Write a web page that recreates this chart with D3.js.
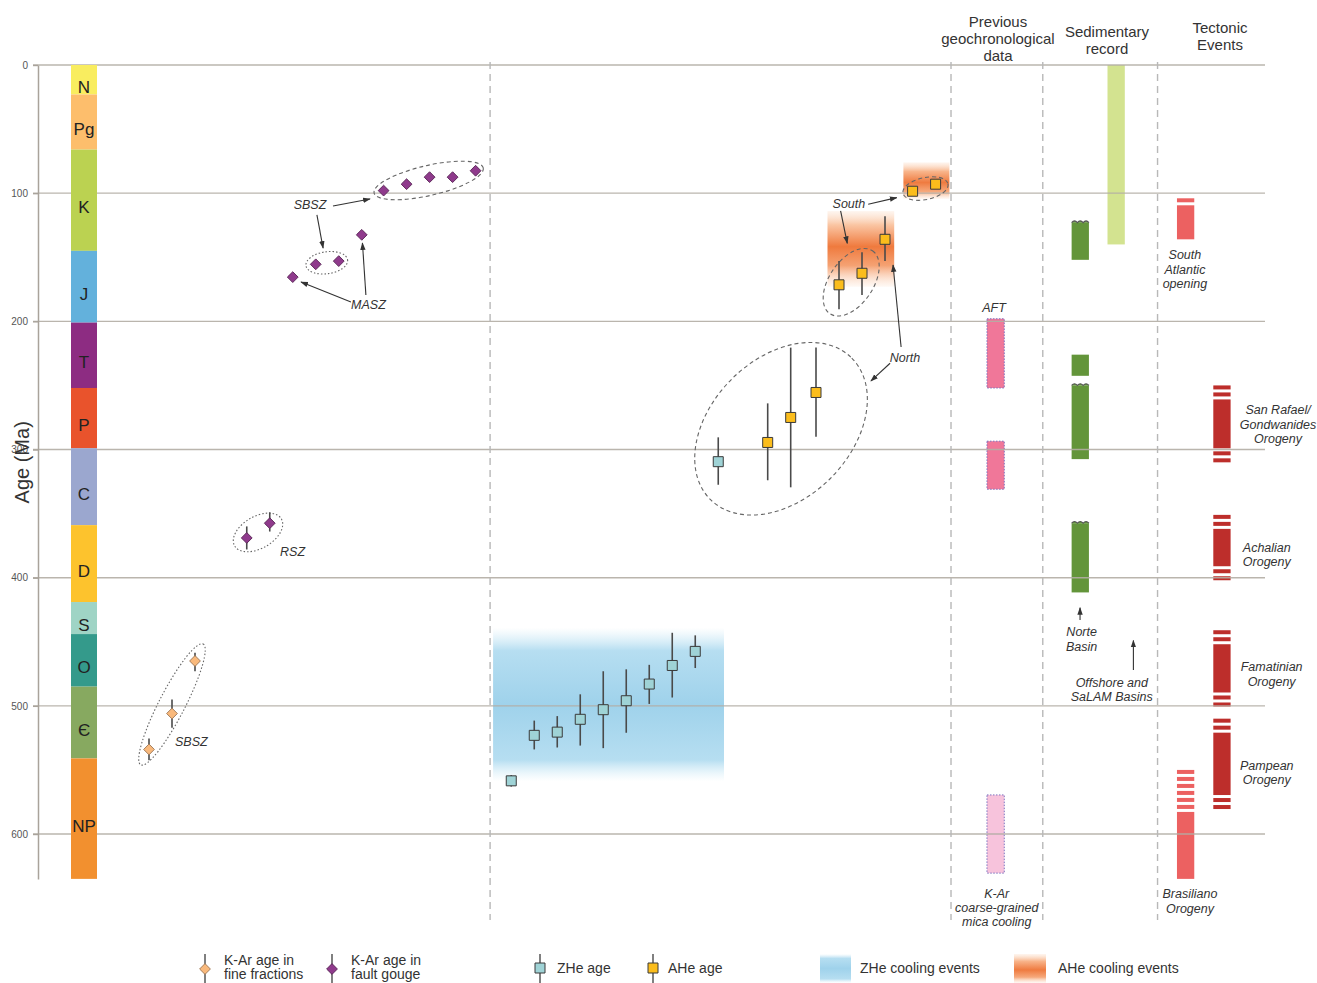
<!DOCTYPE html>
<html>
<head>
<meta charset="utf-8">
<script src="https://cdn.jsdelivr.net/npm/d3@7"></script>
<style>
  html, body { margin: 0; padding: 0; background: #fff; }
  svg { display: block; font-family: "Liberation Sans", Arial, sans-serif; }
</style>
</head>
<body>
<svg id="chart" width="1317" height="983"></svg>
<script>
// ---------- Geological time scale (Ma) ----------
const periods      = ["N", "Pg", "K", "J", "T", "P", "C", "D", "S", "O", "Є", "NP"];
const periodStart  = [0, 23, 66, 145, 201, 252, 299, 359, 419, 444, 485, 541];
const periodEnd    = [23, 66, 145, 201, 252, 299, 359, 419, 444, 485, 541, 635];
const periodColors = ["#f9ed5f", "#fdbe6c", "#bbd251", "#63b1dc", "#8d2c82", "#e9532c",
                      "#9ba7cf", "#fdc32d", "#9fd4c5", "#349a8b", "#87a960", "#f2902f"];

const ageTicks = [0, 100, 200, 300, 400, 500, 600];

// ---------- K-Ar ages, fine fractions (sample slot along profile) ----------
const fineSlot = [0, 1, 2];
const fineAge  = [534, 506, 465];
const fineLo   = [525.5, 495, 458.5];
const fineHi   = [542.5, 517, 473];

// ---------- K-Ar ages, fault gouge ----------
const gougeSlot = [4.25, 5.25, 6.25, 7.25, 8.25, 9.25, 10.2, 11.2, 12.2, 13.2, 14.2];
const gougeAge  = [369, 357.5, 165.5, 155.5, 153, 132.5, 98, 93, 87.5, 87.5, 82.5];
const gougeLo   = [360, 349, null, null, null, null, null, null, null, null, null];
const gougeHi   = [378, 364, null, null, null, null, null, null, null, null, null];

// ---------- ZHe ages ----------
const zheSlot = [15.75, 16.75, 17.75, 18.75, 19.75, 20.75, 21.75, 22.75, 23.75, 24.75];
const zheAge  = [558.5, 523, 520.5, 510.5, 503, 496, 483, 468.5, 457.5, 309.5];
const zheLo   = [554, 511.5, 508, 491, 473, 471.5, 468, 443, 445, 290.5];
const zheHi   = [563, 534, 532.5, 531, 533, 521, 498.5, 493.5, 470.5, 327.5];

// ---------- AHe ages ----------
const aheSlot = [26.9, 27.9, 29.0, 30.0, 31.0, 32.0, 33.2, 34.2];
const aheAge  = [294.5, 275, 255.5, 171.5, 162.5, 136, 98.5, 93];
const aheLo   = [264, 220.5, 220.5, 153, 146, 118, null, null];
const aheHi   = [324, 329.5, 290, 190.5, 179.5, 153, null, null];

// ---------- Cooling events ----------
const coolKind     = ["zhe", "ahe", "ahe"];
const coolSlotFrom = [14.96, 29.5, 32.8];
const coolSlotTo   = [25.0, 32.4, 34.8];
const coolAgeFrom  = [439, 114, 76];
const coolAgeTo    = [559, 173, 104.5];

// ---------- Previous geochronological data ----------
const prevKind = ["aft", "aft", "mica"];
const prevFrom = [198, 293.5, 569.5];
const prevTo   = [252, 331, 630.5];

// ---------- Sedimentary record ----------
const sedTrack = ["dark", "dark", "dark", "dark", "light"];
const sedFrom  = [123, 226, 250, 357.5, 0];
const sedTo    = [152, 242.5, 307.5, 411.5, 140];
const sedWavy  = [true, false, true, true, false];

// ---------- Tectonic events ----------
const tectTrack      = ["light", "dark", "dark", "dark", "dark", "light"];
const tectFrom       = [104, 250, 351, 441, 510, 550];
const tectTo         = [136, 310, 402, 500.5, 580.5, 635];
const tectFuzzTop    = [1, 2, 2, 2, 2, 6];
const tectFuzzBottom = [0, 2, 2, 2, 2, 0];
const tectLabel = [["South", "Atlantic", "opening"], ["San Rafael/", "Gondwanides", "Orogeny"],
                   ["Achalian", "Orogeny"], ["Famatinian", "Orogeny"],
                   ["Pampean", "Orogeny"], ["Brasiliano", "Orogeny"]];

// ---------- layout ----------
const svg = d3.select("#chart");
const axisX = 38, gridLeft = 33, gridRight = 1265;
const x = d3.scaleLinear().domain([0, 46]).range([149, 149 + 46 * 23]);
const y = d3.scaleLinear().domain([0, 635]).range([65, 65 + 635 * 1.2817]);

// track centres (slot units) for the right-hand columns
const trackSlot = { prev: 36.81, sedDark: 40.49, sedLight: 42.05, tectLight: 45.07, tectDark: 46.65 };
const trackW = 17.3;
const panelSeparators = [14.83, 34.87, 38.86, 43.85];

const defs = svg.append("defs");
function vGrad(id, stops) {
  const g = defs.append("linearGradient").attr("id", id)
    .attr("x1", 0).attr("y1", 0).attr("x2", 0).attr("y2", 1);
  stops.forEach(s => g.append("stop").attr("offset", s[0]).attr("stop-color", s[1]).attr("stop-opacity", s[2]));
}
vGrad("gZhe", [[0, "#cde9f6", 0], [0.15, "#b6def1", 1], [0.5, "#9fd2eb", 1], [0.86, "#b6def1", 1], [1, "#d6eef8", 0]]);
vGrad("gAhe1", [[0, "#fde6d5", 0.4], [0.18, "#fac6a4", 1], [0.47, "#ef7a3e", 1], [0.72, "#f5a273", 1], [1, "#fde8d8", 0.3]]);
vGrad("gAhe2", [[0, "#fde6d5", 0.4], [0.25, "#f8b48a", 1], [0.55, "#ef7b40", 1], [0.8, "#f6a97c", 1], [1, "#fde8d8", 0.3]]);

defs.append("marker").attr("id", "arrow").attr("viewBox", "0 0 10 10")
  .attr("refX", 9).attr("refY", 5).attr("markerWidth", 7).attr("markerHeight", 7)
  .attr("orient", "auto")
  .append("path").attr("d", "M0,1.5 L10,5 L0,8.5 Z").attr("fill", "#333");

// ---------- cooling event bands ----------
svg.append("g").selectAll("rect").data(coolKind).join("rect")
  .attr("x", (d, i) => x(coolSlotFrom[i]))
  .attr("width", (d, i) => x(coolSlotTo[i]) - x(coolSlotFrom[i]))
  .attr("y", (d, i) => y(coolAgeFrom[i]))
  .attr("height", (d, i) => y(coolAgeTo[i]) - y(coolAgeFrom[i]))
  .attr("fill", (d, i) => d === "zhe" ? "url(#gZhe)" : (i === 1 ? "url(#gAhe1)" : "url(#gAhe2)"));

// ---------- previous geochronological data ----------
svg.append("g").selectAll("rect").data(prevKind).join("rect")
  .attr("x", x(trackSlot.prev) - trackW / 2).attr("width", trackW)
  .attr("y", (d, i) => y(prevFrom[i]))
  .attr("height", (d, i) => y(prevTo[i]) - y(prevFrom[i]))
  .attr("fill", d => d === "aft" ? "#f07799" : "#f7c3dc")
  .attr("stroke", "#7b74c0").attr("stroke-width", 1).attr("stroke-dasharray", "1.5,1.5");

// ---------- sedimentary record ----------
const sedG = svg.append("g");
sedTrack.forEach((t, i) => {
  const cx = x(t === "dark" ? trackSlot.sedDark : trackSlot.sedLight);
  const x0 = cx - trackW / 2;
  sedG.append("rect").attr("x", x0).attr("width", trackW)
    .attr("y", y(sedFrom[i])).attr("height", y(sedTo[i]) - y(sedFrom[i]))
    .attr("fill", t === "dark" ? "#63953a" : "#d3e390");
  if (sedWavy[i]) {
    const n = 3, s = trackW / n, yy = y(sedFrom[i]);
    let d = `M${x0},${yy}`;
    for (let k = 0; k < n; k++) d += ` q${s / 2},-3.5 ${s},0`;
    sedG.append("path").attr("d", d).attr("fill", "#63953a")
      .attr("stroke", "#555").attr("stroke-width", 1.1);
  }
});

// ---------- tectonic events ----------
const tectG = svg.append("g");
const stripeH = 4, stripeStep = 7;
tectTrack.forEach((t, i) => {
  const cx = x(t === "dark" ? trackSlot.tectDark : trackSlot.tectLight);
  const x0 = cx - trackW / 2;
  const fill = t === "dark" ? "#bd2e2b" : "#ec6161";
  const top = y(tectFrom[i]), bot = y(tectTo[i]);
  const nt = tectFuzzTop[i], nb = tectFuzzBottom[i];
  for (let k = 0; k < nt; k++)
    tectG.append("rect").attr("x", x0).attr("width", trackW)
      .attr("y", top + k * stripeStep).attr("height", stripeH).attr("fill", fill);
  const mainTop = top + nt * stripeStep, mainBot = bot - nb * stripeStep;
  tectG.append("rect").attr("x", x0).attr("width", trackW)
    .attr("y", mainTop).attr("height", mainBot - mainTop).attr("fill", fill);
  for (let k = 0; k < nb; k++)
    tectG.append("rect").attr("x", x0).attr("width", trackW)
      .attr("y", bot - (nb - k) * stripeStep + (stripeStep - stripeH)).attr("height", stripeH).attr("fill", fill);
});

// ---------- grid lines ----------
svg.append("g").selectAll("line").data(ageTicks).join("line")
  .attr("x1", gridLeft).attr("x2", gridRight)
  .attr("y1", d => y(d)).attr("y2", d => y(d))
  .attr("stroke", "#b3ada4").attr("stroke-width", 1.4).attr("stroke-opacity", 0.9);

// ---------- panel separators ----------
svg.append("g").selectAll("line").data(panelSeparators).join("line")
  .attr("x1", d => x(d)).attr("x2", d => x(d))
  .attr("y1", 62).attr("y2", 920)
  .attr("stroke", "#b8b8b8").attr("stroke-width", 1.4).attr("stroke-dasharray", "7,5");

// ---------- age axis ----------
const axisG = svg.append("g").attr("transform", `translate(${axisX},0)`)
  .call(d3.axisLeft(y).tickValues(ageTicks).tickSize(5).tickSizeOuter(0).tickPadding(5).tickFormat(d3.format("d")));
axisG.select(".domain").attr("stroke", "#a9a39b").attr("stroke-width", 1.5);
axisG.selectAll(".tick line").attr("stroke", "#a9a39b").attr("stroke-width", 1.4);
axisG.selectAll(".tick text").attr("font-size", 10).attr("fill", "#555")
  .attr("font-family", "'Liberation Sans', Arial, sans-serif");

svg.append("text").attr("transform", `translate(29,${y(310)}) rotate(-90)`)
  .attr("text-anchor", "middle").attr("font-size", 20).attr("fill", "#333")
  .text("Age (Ma)");

// ---------- geological column ----------
const colG = svg.append("g");
colG.selectAll("rect").data(periods).join("rect")
  .attr("x", 71).attr("width", 26)
  .attr("y", (d, i) => y(periodStart[i]))
  .attr("height", (d, i) => y(periodEnd[i]) - y(periodStart[i]))
  .attr("fill", (d, i) => periodColors[i]);
colG.selectAll("text").data(periods).join("text")
  .attr("x", 84)
  .attr("y", (d, i) => (y(periodStart[i]) + y(periodEnd[i])) / 2 + 13)
  .attr("text-anchor", "middle").attr("font-size", 17).attr("fill", "#222")
  .text(d => d);

// ---------- grouping ellipses ----------
const ellSlot  = [12.16, 7.73, 4.74, 1.0, 27.48, 30.53, 33.76];
const ellAge   = [90.1, 154.3, 364.7, 498.9, 283.8, 169.5, 96.4];
const ellRx    = [56, 21, 27, 68, 100, 38, 23];
const ellRy    = [15, 11, 16, 13, 70, 22, 11];
const ellAngle = [-13, -8, -30, -62.7, -45, -56, -12];
const ellDash  = ["4,3", "1.5,2", "1.5,2", "1.5,2", "4,3", "4,3", "4,3"];
svg.append("g").selectAll("ellipse").data(ellSlot).join("ellipse")
  .attr("transform", (d, i) => `translate(${x(d)},${y(ellAge[i])}) rotate(${ellAngle[i]})`)
  .attr("rx", (d, i) => ellRx[i]).attr("ry", (d, i) => ellRy[i])
  .attr("fill", "none").attr("stroke", "#666").attr("stroke-width", 1.1)
  .attr("stroke-dasharray", (d, i) => ellDash[i]);

// ---------- annotation arrows ----------
const arrows = [
  [8.0, 110.0, 9.61, 104.5], [7.30, 117.0, 7.57, 142.8],
  [8.78, 184.9, 6.61, 169.3], [9.43, 179.4, 9.28, 138.9],
  [31.27, 108.7, 32.51, 103.5], [30.07, 113.9, 30.36, 139.1],
  [32.22, 232.7, 31.39, 246.5], [32.70, 220.0, 32.35, 156.0],
  [40.48, 433.0, 40.48, 423.5], [42.80, 472.0, 42.80, 449.0]
];
svg.append("g").selectAll("line").data(arrows).join("line")
  .attr("x1", d => x(d[0])).attr("y1", d => y(d[1]))
  .attr("x2", d => x(d[2])).attr("y2", d => y(d[3]))
  .attr("stroke", "#333").attr("stroke-width", 1.1).attr("marker-end", "url(#arrow)");

// ---------- points with error bars ----------
const diamond = d3.symbol(d3.symbolSquare, 58);
const square = d3.symbol(d3.symbolSquare, 100);
function errorBars(g, slots, lo, hi) {
  g.selectAll("line.err").data(slots.map((s, i) => [s, lo[i], hi[i]]).filter(d => d[1] != null))
    .join("line").attr("class", "err")
    .attr("x1", d => x(d[0])).attr("x2", d => x(d[0]))
    .attr("y1", d => y(d[1])).attr("y2", d => y(d[2]))
    .attr("stroke", "#4a4a4a").attr("stroke-width", 1.6);
}
const fineG = svg.append("g");
errorBars(fineG, fineSlot, fineLo, fineHi);
fineG.selectAll("path").data(fineSlot).join("path")
  .attr("d", diamond)
  .attr("transform", (d, i) => `translate(${x(d)},${y(fineAge[i])}) rotate(45)`)
  .attr("fill", "#f9b97c").attr("stroke", "#9d7a5a").attr("stroke-width", 0.9);

const gougeG = svg.append("g");
errorBars(gougeG, gougeSlot, gougeLo, gougeHi);
gougeG.selectAll("path").data(gougeSlot).join("path")
  .attr("d", diamond)
  .attr("transform", (d, i) => `translate(${x(d)},${y(gougeAge[i])}) rotate(45)`)
  .attr("fill", "#8f3a8c").attr("stroke", "#5b2858").attr("stroke-width", 0.9);

const zheG = svg.append("g");
errorBars(zheG, zheSlot, zheLo, zheHi);
zheG.selectAll("path").data(zheSlot).join("path")
  .attr("d", square)
  .attr("transform", (d, i) => `translate(${x(d)},${y(zheAge[i])})`)
  .attr("fill", "#9fd3d6").attr("stroke", "#3a3a3a").attr("stroke-width", 1);

const aheG = svg.append("g");
errorBars(aheG, aheSlot, aheLo, aheHi);
aheG.selectAll("path").data(aheSlot).join("path")
  .attr("d", square)
  .attr("transform", (d, i) => `translate(${x(d)},${y(aheAge[i])})`)
  .attr("fill", "#fbbd1c").attr("stroke", "#3a3a3a").attr("stroke-width", 1);

// ---------- italic annotation labels ----------
function label(lines, slot, age, anchor, size) {
  const t = svg.append("text").attr("x", x(slot)).attr("y", y(age))
    .attr("text-anchor", anchor).attr("font-size", size || 12.5)
    .attr("font-style", "italic").attr("fill", "#333");
  lines.forEach((l, k) => t.append("tspan").attr("x", x(slot))
    .attr("dy", k === 0 ? "0.35em" : 14.4).text(l));
}
label(["SBSZ"], 7.0, 109.2, "middle");
label(["MASZ"], 9.54, 187.3, "middle");
label(["RSZ"], 5.70, 379.6, "start");
label(["SBSZ"], 1.13, 527.8, "start");
label(["South"], 30.43, 107.9, "middle");
label(["North"], 32.87, 228.6, "middle");
label(["AFT"], 36.74, 189.6, "middle");
label(["K-Ar", "coarse-grained", "mica cooling"], 36.86, 646.2, "middle");
label(["Norte", "Basin"], 40.55, 442.2, "middle");
label(["Offshore and", "SaLAM Basins"], 41.86, 481.9, "middle");

const tectLabelSlot = [45.04, 49.09, 48.6, 48.81, 48.6, 45.26];
const tectLabelAge  = [148.2, 269.2, 376.3, 469.5, 546.7, 646.8];
tectLabel.forEach((lines, i) => label(lines, tectLabelSlot[i], tectLabelAge[i], "middle"));

// ---------- column headers ----------
const headers = [
  [["Previous", "geochronological", "data"], 998, 27],
  [["Sedimentary", "record"], 1107, 37],
  [["Tectonic", "Events"], 1220, 33]
];
headers.forEach(h => {
  const t = svg.append("text").attr("x", h[1]).attr("y", h[2])
    .attr("text-anchor", "middle").attr("font-size", 15).attr("fill", "#333");
  h[0].forEach((l, k) => t.append("tspan").attr("x", h[1]).attr("dy", k === 0 ? 0 : 17).text(l));
});

// ---------- legend ----------
const leg = svg.append("g").attr("font-size", 14).attr("fill", "#333");
function legLine(cx) {
  leg.append("line").attr("x1", cx).attr("x2", cx).attr("y1", 954).attr("y2", 984)
    .attr("stroke", "#4a4a4a").attr("stroke-width", 1.4);
}
legLine(205);
leg.append("path").attr("d", diamond).attr("transform", "translate(205,969) rotate(45)")
  .attr("fill", "#f9b97c").attr("stroke", "#9d7a5a").attr("stroke-width", 0.9);
leg.append("text").attr("x", 224).attr("y", 965).text("K-Ar age in");
leg.append("text").attr("x", 224).attr("y", 979).text("fine fractions");
legLine(332);
leg.append("path").attr("d", diamond).attr("transform", "translate(332,969) rotate(45)")
  .attr("fill", "#8f3a8c").attr("stroke", "#5b2858").attr("stroke-width", 0.9);
leg.append("text").attr("x", 351).attr("y", 965).text("K-Ar age in");
leg.append("text").attr("x", 351).attr("y", 979).text("fault gouge");
legLine(540);
leg.append("path").attr("d", square).attr("transform", "translate(540,968)")
  .attr("fill", "#9fd3d6").attr("stroke", "#3a3a3a");
leg.append("text").attr("x", 557).attr("y", 973).text("ZHe age");
legLine(653);
leg.append("path").attr("d", square).attr("transform", "translate(653,968)")
  .attr("fill", "#fbbd1c").attr("stroke", "#3a3a3a");
leg.append("text").attr("x", 668).attr("y", 973).text("AHe age");
leg.append("rect").attr("x", 820).attr("y", 954).attr("width", 31).attr("height", 29).attr("fill", "url(#gZhe)");
leg.append("text").attr("x", 860).attr("y", 973).text("ZHe cooling events");
leg.append("rect").attr("x", 1014).attr("y", 954).attr("width", 32).attr("height", 29).attr("fill", "url(#gAhe2)");
leg.append("text").attr("x", 1058).attr("y", 973).text("AHe cooling events");
</script>
</body>
</html>
